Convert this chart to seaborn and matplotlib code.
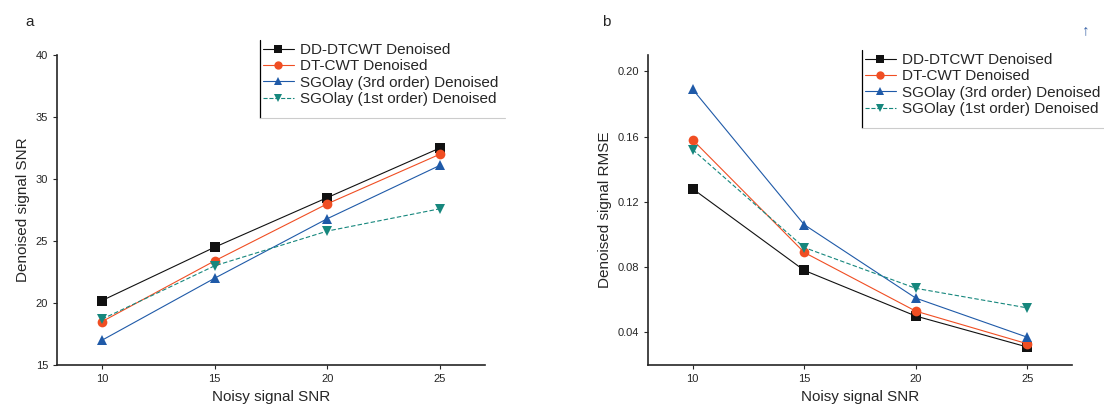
import pandas as pd
import matplotlib.pyplot as plt
import seaborn as sns
from matplotlib.lines import Line2D

# data
noisy_snr = [10, 15, 20, 25]
methods = ["DD-DTCWT Denoised", "DT-CWT Denoised",
           "SGOlay (3rd order) Denoised", "SGOlay (1st order) Denoised"]

snr_dd = [20.2, 24.5, 28.5, 32.5]
snr_dt = [18.5, 23.4, 28.0, 32.0]
snr_sg3 = [17.0, 22.0, 26.8, 31.1]
snr_sg1 = [18.7, 23.0, 25.8, 27.6]

rmse_dd = [0.128, 0.078, 0.050, 0.031]
rmse_dt = [0.158, 0.089, 0.053, 0.033]
rmse_sg3 = [0.189, 0.106, 0.061, 0.037]
rmse_sg1 = [0.152, 0.092, 0.067, 0.055]

colors = ["#111111", "#f04e23", "#1f5aa8", "#16877d"]
markers = ["s", "o", "^", "v"]
dashes = ["", "", "", (4, 2)]


def long_form(series):
    rows = []
    for m, vals in zip(methods, series):
        for x, v in zip(noisy_snr, vals):
            rows.append({"x": x, "y": v, "method": m})
    return pd.DataFrame(rows)


snr_df = long_form([snr_dd, snr_dt, snr_sg3, snr_sg1])
rmse_df = long_form([rmse_dd, rmse_dt, rmse_sg3, rmse_sg1])

sns.set_style("ticks")
plt.rcParams["font.family"] = ["Liberation Sans", "DejaVu Sans"]

fig = plt.figure(figsize=(11.04, 4.13), dpi=100)
ax1 = fig.add_axes([57 / 1104, 48 / 413, 428 / 1104, 310 / 413])
ax2 = fig.add_axes([648 / 1104, 48 / 413, 424 / 1104, 310 / 413])

for ax, df in [(ax1, snr_df), (ax2, rmse_df)]:
    sns.lineplot(data=df, x="x", y="y", hue="method", style="method",
                 hue_order=methods, style_order=methods,
                 palette=colors, markers=markers, dashes=dashes,
                 markersize=7, markeredgewidth=0, linewidth=0.8, ax=ax)
    sns.despine(ax=ax)
    ax.set_xlim(8, 27)
    ax.set_xticks(noisy_snr)
    ax.set_xlabel("Noisy signal SNR", fontsize=11)
    ax.tick_params(labelsize=8, length=3, width=0.8)
    for s in ["left", "bottom"]:
        ax.spines[s].set_linewidth(1.2)
    ax.get_legend().remove()

ax1.set_ylim(15, 40)
ax1.set_yticks([15, 20, 25, 30, 35, 40])
ax1.set_ylabel("Denoised signal SNR", fontsize=11)

ax2.set_ylim(0.02, 0.21)
ax2.set_yticks([0.04, 0.08, 0.12, 0.16, 0.20])
ax2.set_yticklabels(["0.04", "0.08", "0.12", "0.16", "0.20"])
ax2.set_ylabel("Denoised signal RMSE", fontsize=11)

# legends: no frame, just a line on the left edge
handles = [Line2D([], [], color=c, marker=m, linestyle="--" if d else "-",
                  markersize=6, markeredgewidth=0, linewidth=0.8)
           for c, m, d in zip(colors, markers, dashes)]
for x0, y_top, y_bot in [(260, 40, 118), (862, 50, 128)]:
    fig.legend(handles, methods, loc="upper left", frameon=False,
               bbox_to_anchor=(x0 / 1104, 1 - y_top / 413),
               fontsize=11, handlelength=2.0, handletextpad=0.4,
               labelspacing=0.15, borderaxespad=0, borderpad=0.2)
    fig.add_artist(Line2D([x0 / 1104, x0 / 1104], [1 - y_top / 413, 1 - y_bot / 413],
                          color="black", linewidth=0.9))
    fig.add_artist(Line2D([x0 / 1104, (x0 + 245) / 1104], [1 - y_bot / 413, 1 - y_bot / 413],
                          color="#cccccc", linewidth=0.8))

fig.text(25 / 1104, 1 - 22 / 413, "a", fontsize=11, va="center")
fig.text(602 / 1104, 1 - 22 / 413, "b", fontsize=11, va="center")
fig.text(1082 / 1104, 1 - 30 / 413, "\u2191", fontsize=11, color="#3a64a8",
         va="center", fontweight="bold")

fig.savefig("out.png", dpi=100)
